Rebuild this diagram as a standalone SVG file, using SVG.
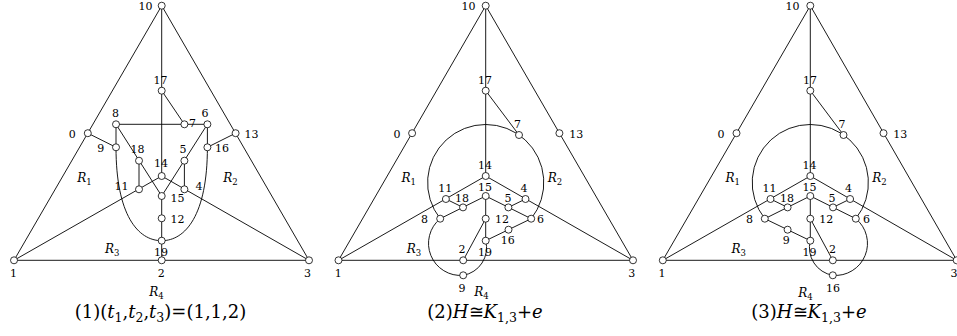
<svg xmlns="http://www.w3.org/2000/svg" width="957" height="336" viewBox="0 0 957 336">
<style>
.e{fill:none;stroke:#000;stroke-width:0.9}
.node circle{fill:#fff;stroke:#000;stroke-width:0.8}
.node text,.lab{font-family:"DejaVu Serif","Liberation Serif",serif;font-size:11px;fill:#000}
.m{text-anchor:middle}.s{text-anchor:start}.en{text-anchor:end}
.R{font-family:"DejaVu Serif","Liberation Serif",serif;font-style:italic;font-size:12px;fill:#000}
.sb{font-style:normal;font-size:8.5px}
.cap{font-family:"DejaVu Serif","Liberation Serif",serif;font-size:18px;fill:#000;text-anchor:middle}
.i{font-style:italic}
.cs{font-size:12.5px}
</style>
<rect width="957" height="336" fill="#fff"/>
<g id="connectors">
<!-- panel 1 -->
<path class="e" d="M161.7,5.7 L14,260.3 H309 Z"/>
<path class="e" d="M161.7,5.7 V176"/>
<path class="e" d="M161.7,90.7 L184.4,124.3"/>
<path class="e" d="M116,124.3 H207.4"/>
<path class="e" d="M87.8,133.2 L116,147.3"/>
<path class="e" d="M116,124.3 V147.3"/>
<path class="e" d="M235.6,133.2 L207.4,147.3"/>
<path class="e" d="M207.4,124.3 V147.3"/>
<path class="e" d="M116,124.3 L161.7,196"/>
<path class="e" d="M207.4,124.3 L161.7,196"/>
<path class="e" d="M139,160.7 V189.3"/>
<path class="e" d="M184.4,160.7 V189.3"/>
<path class="e" d="M14,260.3 L161.7,176 L309,260.3"/>
<path class="e" d="M161.7,196 V260.3"/>
<path class="e" d="M116,147.3 C116,215 138,240.7 161.7,240.7 C185.4,240.7 207.4,215 207.4,147.3"/>
<!-- panel 2 -->
<path class="e" d="M485.7,5.7 L338.5,260.3 H633 Z"/>
<path class="e" d="M485.7,5.7 V176"/>
<path class="e" d="M485.7,90.7 L519,135"/>
<path class="e" d="M440.2,218.7 A58.1,58.1 0 1 1 531.2,218.7"/>
<path class="e" d="M338.5,260.3 L485.7,176 L633,260.3"/>
<path class="e" d="M440.2,218.7 L485.7,196 L531.2,218.7"/>
<path class="e" d="M445.9,199 L463,207.4"/>
<path class="e" d="M525.5,199 L508.4,207.4"/>
<path class="e" d="M485.7,196 V240.7"/>
<path class="e" d="M485.7,218.7 L463.2,260.3"/>
<path class="e" d="M485.7,240.7 L531.2,218.7"/>
<path class="e" d="M440.2,218.7 A32,32 0 0 0 463.2,275.3 A28,28 0 0 0 485.7,240.7"/>
<!-- panel 3 -->
<path class="e" d="M810.3,5.7 L662.8,260.3 H956.7 Z"/>
<path class="e" d="M810.3,5.7 V176"/>
<path class="e" d="M810.3,90.7 L843.5,135"/>
<path class="e" d="M764.8,218.7 A58.1,58.1 0 1 1 855.8,218.7"/>
<path class="e" d="M662.8,260.3 L810.3,176 L956.7,260.3"/>
<path class="e" d="M764.8,218.7 L810.3,196 L855.8,218.7"/>
<path class="e" d="M770.5,199 L787.6,207.4"/>
<path class="e" d="M850.1,199 L833,207.4"/>
<path class="e" d="M810.3,196 V240.7"/>
<path class="e" d="M810.3,218.7 L832.8,260.3"/>
<path class="e" d="M764.8,218.7 L810.3,240.7"/>
<path class="e" d="M855.8,218.7 A32,32 0 0 1 832.8,275.3 A28,28 0 0 1 810.3,240.7"/>
</g>

<!-- panel 1 nodes -->
<g id="a10" class="node"><circle cx="161.7" cy="5.7" r="3.5"/><text class="en" x="152.5" y="10">10</text></g>
<g id="a17" class="node"><circle cx="161.7" cy="90.7" r="3.5"/><text class="m" x="160.5" y="83.5">17</text></g>
<g id="a0" class="node"><circle cx="87.8" cy="133.2" r="3.5"/><text class="m" x="72.2" y="137.5">0</text></g>
<g id="a13" class="node"><circle cx="235.6" cy="133.2" r="3.5"/><text class="s" x="244.5" y="137.5">13</text></g>
<g id="a8" class="node"><circle cx="116" cy="124.3" r="3.5"/><text class="m" x="115.5" y="117.3">8</text></g>
<g id="a7" class="node"><circle cx="184.4" cy="124.3" r="3.5"/><text class="m" x="192.5" y="126.7">7</text></g>
<g id="a6" class="node"><circle cx="207.4" cy="124.3" r="3.5"/><text class="m" x="205" y="117.3">6</text></g>
<g id="a9" class="node"><circle cx="116" cy="147.3" r="3.5"/><text class="m" x="100.8" y="151.7">9</text></g>
<g id="a16" class="node"><circle cx="207.4" cy="147.3" r="3.5"/><text class="s" x="215" y="151.7">16</text></g>
<g id="a18" class="node"><circle cx="139" cy="160.7" r="3.5"/><text class="m" x="137.5" y="153.3">18</text></g>
<g id="a5" class="node"><circle cx="184.4" cy="160.7" r="3.5"/><text class="m" x="183" y="153.3">5</text></g>
<g id="a14" class="node"><circle cx="161.7" cy="176" r="3.5"/><text class="m" x="161" y="167.3">14</text></g>
<g id="a11" class="node"><circle cx="139" cy="189.3" r="3.5"/><text class="en" x="128.5" y="190">11</text></g>
<g id="a4" class="node"><circle cx="184.4" cy="189.3" r="3.5"/><text class="m" x="199" y="190">4</text></g>
<g id="a15" class="node"><circle cx="161.7" cy="196" r="3.5"/><text class="s" x="170.5" y="201.7">15</text></g>
<g id="a12" class="node"><circle cx="161.7" cy="218.3" r="3.5"/><text class="s" x="170.5" y="222.7">12</text></g>
<g id="a19" class="node"><circle cx="161.7" cy="240.7" r="3.5"/><text class="m" x="161" y="256">19</text></g>
<g id="a2" class="node"><circle cx="161.7" cy="260.3" r="3.5"/><text class="m" x="161.3" y="277">2</text></g>
<g id="a1" class="node"><circle cx="14" cy="260.3" r="3.5"/><text class="m" x="13.5" y="277">1</text></g>
<g id="a3" class="node"><circle cx="309" cy="260.3" r="3.5"/><text class="m" x="307.5" y="277">3</text></g>
<g id="a-regions">
<text class="R" x="77.3" y="181.7">R<tspan class="sb" dy="3">1</tspan></text>
<text class="R" x="223.3" y="181.7">R<tspan class="sb" dy="3">2</tspan></text>
<text class="R" x="105" y="253">R<tspan class="sb" dy="3">3</tspan></text>
<text class="R" x="149.3" y="296">R<tspan class="sb" dy="2.5">4</tspan></text>
</g>
<text id="a-cap" class="cap" x="160.5" y="318">(1)(<tspan class="i">t</tspan><tspan class="cs" dy="3.5">1</tspan><tspan dy="-3.5">,</tspan><tspan class="i">t</tspan><tspan class="cs" dy="3.5">2</tspan><tspan dy="-3.5">,</tspan><tspan class="i">t</tspan><tspan class="cs" dy="3.5">3</tspan><tspan dy="-3.5">)=(1,1,2)</tspan></text>

<!-- panel 2 nodes -->
<g id="b10" class="node"><circle cx="485.7" cy="5.7" r="3.5"/><text class="en" x="475.5" y="10">10</text></g>
<g id="b17" class="node"><circle cx="485.7" cy="90.7" r="3.5"/><text class="m" x="485" y="83.5">17</text></g>
<g id="b0" class="node"><circle cx="412.1" cy="133.2" r="3.5"/><text class="m" x="397" y="137.5">0</text></g>
<g id="b13" class="node"><circle cx="559.4" cy="133.2" r="3.5"/><text class="s" x="569.3" y="137.5">13</text></g>
<g id="b7" class="node"><circle cx="519" cy="135" r="3.5"/><text class="m" x="517.5" y="127.5">7</text></g>
<g id="b14" class="node"><circle cx="485.7" cy="176" r="3.5"/><text class="m" x="485" y="168.5">14</text></g>
<g id="b15" class="node"><circle cx="485.7" cy="196" r="3.5"/><text class="m" x="485" y="191">15</text></g>
<g id="b11" class="node"><circle cx="445.9" cy="199" r="3.5"/><text class="m" x="445.3" y="191.5">11</text></g>
<g id="b4" class="node"><circle cx="525.5" cy="199" r="3.5"/><text class="m" x="524" y="191.5">4</text></g>
<g id="b18" class="node"><circle cx="463" cy="207.4" r="3.5"/><text class="m" x="462" y="201.5">18</text></g>
<g id="b5" class="node"><circle cx="508.4" cy="207.4" r="3.5"/><text class="m" x="508" y="201.5">5</text></g>
<g id="b8" class="node"><circle cx="440.2" cy="218.7" r="3.5"/><text class="m" x="424.5" y="223.3">8</text></g>
<g id="b12" class="node"><circle cx="485.7" cy="218.7" r="3.5"/><text class="s" x="495" y="223.3">12</text></g>
<g id="b6" class="node"><circle cx="531.2" cy="218.7" r="3.5"/><text class="m" x="540.5" y="223.3">6</text></g>
<g id="b16" class="node"><circle cx="508.5" cy="229.7" r="3.5"/><text class="m" x="507.7" y="244">16</text></g>
<g id="b19" class="node"><circle cx="485.7" cy="240.7" r="3.5"/><text class="m" x="485" y="256">19</text></g>
<g id="b2" class="node"><circle cx="463.2" cy="260.3" r="3.5"/><text class="m" x="462" y="253">2</text></g>
<g id="b9" class="node"><circle cx="463.2" cy="275.3" r="3.5"/><text class="m" x="462" y="291.5">9</text></g>
<g id="b1" class="node"><circle cx="338.5" cy="260.3" r="3.5"/><text class="m" x="338.3" y="277">1</text></g>
<g id="b3" class="node"><circle cx="633" cy="260.3" r="3.5"/><text class="m" x="631.7" y="277">3</text></g>
<g id="b-regions">
<text class="R" x="401.5" y="181.5">R<tspan class="sb" dy="3">1</tspan></text>
<text class="R" x="547.7" y="181.7">R<tspan class="sb" dy="3">2</tspan></text>
<text class="R" x="406.7" y="253">R<tspan class="sb" dy="3">3</tspan></text>
<text class="R" x="474.3" y="296">R<tspan class="sb" dy="2.5">4</tspan></text>
</g>
<text id="b-cap" class="cap" x="485" y="318">(2)<tspan class="i">H</tspan>≅<tspan class="i">K</tspan><tspan class="cs" dy="3.5">1,3</tspan><tspan dy="-3.5">+</tspan><tspan class="i">e</tspan></text>

<!-- panel 3 nodes -->
<g id="c10" class="node"><circle cx="810.3" cy="5.7" r="3.5"/><text class="en" x="799.5" y="10">10</text></g>
<g id="c17" class="node"><circle cx="810.3" cy="90.7" r="3.5"/><text class="m" x="810" y="83.5">17</text></g>
<g id="c0" class="node"><circle cx="736.5" cy="133.2" r="3.5"/><text class="m" x="721" y="137.5">0</text></g>
<g id="c13" class="node"><circle cx="883.5" cy="133.2" r="3.5"/><text class="s" x="893.3" y="137.5">13</text></g>
<g id="c7" class="node"><circle cx="843.5" cy="135" r="3.5"/><text class="m" x="842" y="127.5">7</text></g>
<g id="c14" class="node"><circle cx="810.3" cy="176" r="3.5"/><text class="m" x="809.5" y="168.5">14</text></g>
<g id="c15" class="node"><circle cx="810.3" cy="196" r="3.5"/><text class="m" x="809.5" y="191">15</text></g>
<g id="c11" class="node"><circle cx="770.5" cy="199" r="3.5"/><text class="m" x="769.5" y="191.5">11</text></g>
<g id="c4" class="node"><circle cx="850.1" cy="199" r="3.5"/><text class="m" x="848.5" y="191.5">4</text></g>
<g id="c18" class="node"><circle cx="787.6" cy="207.4" r="3.5"/><text class="m" x="787" y="201.5">18</text></g>
<g id="c5" class="node"><circle cx="833" cy="207.4" r="3.5"/><text class="m" x="832" y="201.5">5</text></g>
<g id="c8" class="node"><circle cx="764.8" cy="218.7" r="3.5"/><text class="m" x="749.5" y="223.3">8</text></g>
<g id="c12" class="node"><circle cx="810.3" cy="218.7" r="3.5"/><text class="s" x="819.3" y="223.3">12</text></g>
<g id="c6" class="node"><circle cx="855.8" cy="218.7" r="3.5"/><text class="m" x="866.5" y="223.3">6</text></g>
<g id="c9" class="node"><circle cx="787.6" cy="229.7" r="3.5"/><text class="m" x="786.2" y="244">9</text></g>
<g id="c19" class="node"><circle cx="810.3" cy="240.7" r="3.5"/><text class="m" x="809.5" y="256">19</text></g>
<g id="c2" class="node"><circle cx="832.8" cy="260.3" r="3.5"/><text class="m" x="832.5" y="253">2</text></g>
<g id="c16" class="node"><circle cx="832.8" cy="275.3" r="3.5"/><text class="m" x="833" y="291.5">16</text></g>
<g id="c1" class="node"><circle cx="662.8" cy="260.3" r="3.5"/><text class="m" x="662" y="277">1</text></g>
<g id="c3" class="node"><circle cx="956.7" cy="260.3" r="3.5"/><text class="m" x="954" y="277">3</text></g>
<g id="c-regions">
<text class="R" x="798.3" y="297">R<tspan class="sb" dy="2.5">4</tspan></text>
<text class="R" x="725.5" y="181.5">R<tspan class="sb" dy="3">1</tspan></text>
<text class="R" x="872.3" y="181.7">R<tspan class="sb" dy="3">2</tspan></text>
<text class="R" x="731.5" y="253">R<tspan class="sb" dy="3">3</tspan></text>
</g>
<text id="c-cap" class="cap" x="809" y="318">(3)<tspan class="i">H</tspan>≅<tspan class="i">K</tspan><tspan class="cs" dy="3.5">1,3</tspan><tspan dy="-3.5">+</tspan><tspan class="i">e</tspan></text>
</svg>
